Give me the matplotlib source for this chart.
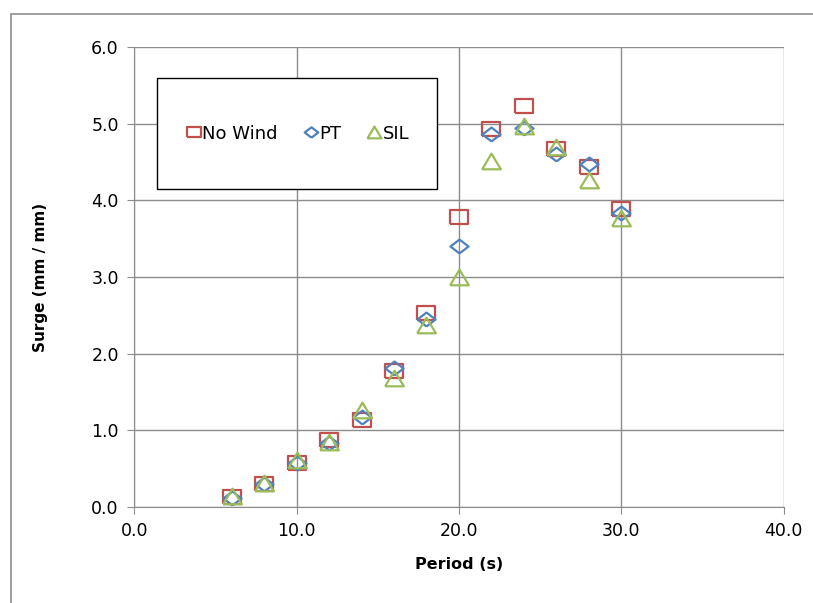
import matplotlib
matplotlib.use("Agg")
import matplotlib.pyplot as plt
from matplotlib.patches import Rectangle

period = [6, 8, 10, 12, 14, 16, 18, 20, 22, 24, 26, 28, 30]
no_wind = [0.13, 0.30, 0.58, 0.87, 1.13, 1.78, 2.53, 3.79, 4.93, 5.23, 4.67, 4.43, 3.89]
pt = [0.12, 0.30, 0.58, 0.84, 1.18, 1.82, 2.45, 3.40, 4.87, 4.95, 4.61, 4.47, 3.84]
sil = [0.14, 0.32, 0.62, 0.85, 1.27, 1.68, 2.37, 3.00, 4.51, 4.97, 4.70, 4.27, 3.77]

x_ticks = [0, 10, 20, 30, 40]
y_ticks = [0, 1, 2, 3, 4, 5, 6]

plt.rcParams['font.family'] = ['DejaVu Sans']

# slightly wide markers, like the stretched excel export
sq = [(-1.3, -1), (1.3, -1), (1.3, 1), (-1.3, 1), (-1.3, -1)]
dia = [(0, -1), (1.3, 0), (0, 1), (-1.3, 0), (0, -1)]
tri = [(-1.2, -1), (1.2, -1), (0, 1), (-1.2, -1)]

fig = plt.figure(figsize=(8.13, 6.03), dpi=100)
ax = fig.add_axes([0.165, 0.159, 0.799, 0.763])

ax.plot(period, no_wind, linestyle='none', marker=sq, markersize=12.5, markerfacecolor='none',
        markeredgecolor='#C0504D', markeredgewidth=1.6, label='No Wind', zorder=3)
ax.plot(period, pt, linestyle='none', marker=dia, markersize=13, markerfacecolor='none',
        markeredgecolor='#4F81BD', markeredgewidth=1.6, label='PT', zorder=4)
ax.plot(period, sil, linestyle='none', marker=tri, markersize=13.5, markerfacecolor='none',
        markeredgecolor='#9BBB59', markeredgewidth=1.6, label='SIL', zorder=5)

ax.set_xlim(0, 40)
ax.set_ylim(0, 6)
ax.set_xticks(x_ticks)
ax.set_yticks(y_ticks)
ax.set_xticklabels([f"{v:.1f}" for v in x_ticks])
ax.set_yticklabels([f"{v:.1f}" for v in y_ticks])
ax.grid(True, color='#8c8c8c', linewidth=1.0)
ax.set_axisbelow(True)
for s in ['top', 'right']:
    ax.spines[s].set_visible(False)
for s in ['left', 'bottom']:
    ax.spines[s].set_color('#8c8c8c')
ax.tick_params(direction='out', length=5, color='#8c8c8c', labelsize=12.5, pad=6)

ax.set_xlabel('Period (s)', fontsize=11.5, fontweight='bold', labelpad=12)
ax.set_ylabel('Surge (mm / mm)', fontsize=11, fontweight='bold', labelpad=31)

# legend box
box = Rectangle((0.035, 0.691), 0.431, 0.242, transform=ax.transAxes, facecolor='white',
                edgecolor='black', linewidth=1.0, zorder=6)
ax.add_patch(box)
leg = ax.legend(loc='center', bbox_to_anchor=(0.2535, 0.812), ncol=3, frameon=False,
                fontsize=13, handlelength=0.65, handletextpad=0.15, columnspacing=1.5,
                markerscale=0.75)
leg.set_zorder(7)

# outer chart frame
fig.patches.append(Rectangle((11 / 813, -0.1), 1.2, 1 - 14 / 603 + 0.1, transform=fig.transFigure,
                             facecolor='none', edgecolor='#8c8c8c', linewidth=1.2))

fig.savefig('out.png', dpi=100)
